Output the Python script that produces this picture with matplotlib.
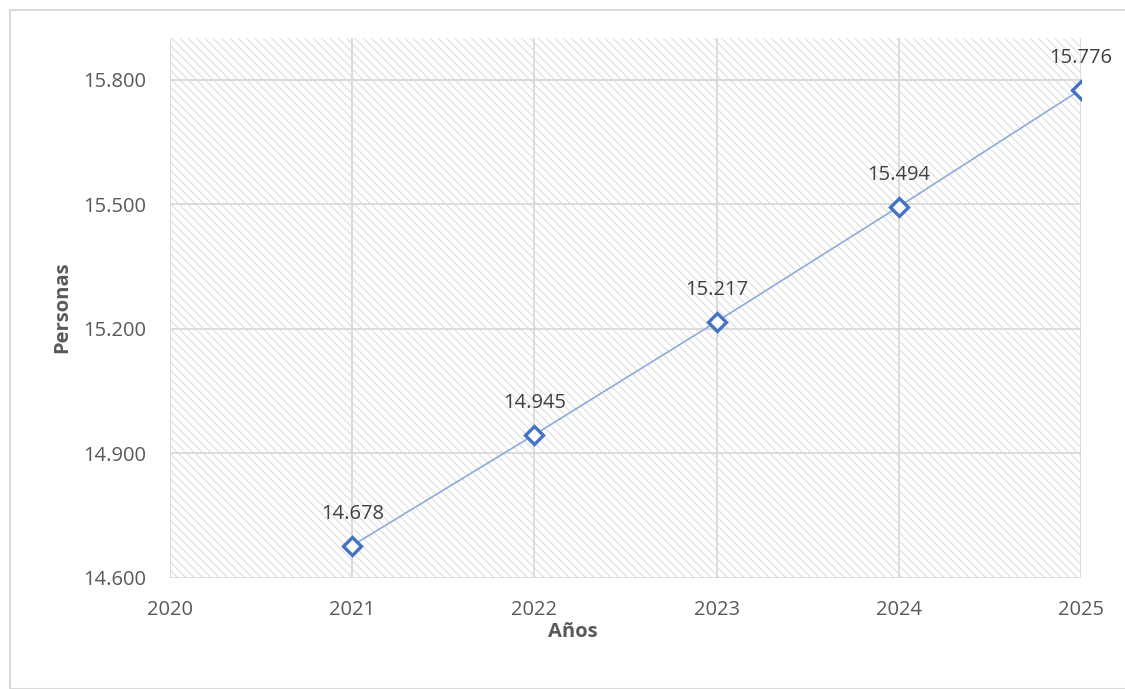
import matplotlib
matplotlib.use("Agg")
import matplotlib.pyplot as plt
from matplotlib.patches import Rectangle

years = [2021, 2022, 2023, 2024, 2025]
personas = [14678, 14945, 15217, 15494, 15776]
labels = ["14.678", "14.945", "15.217", "15.494", "15.776"]
xticks = [2020, 2021, 2022, 2023, 2024, 2025]
yticks = [14600, 14900, 15200, 15500, 15800]
ytick_labels = ["14.600", "14.900", "15.200", "15.500", "15.800"]

plt.rcParams['font.family'] = ['Open Sans', 'DejaVu Sans']
plt.rcParams['hatch.linewidth'] = 0.8
plt.rcParams['hatch.color'] = '#dedede'

fig = plt.figure(figsize=(11.25, 6.89), dpi=100)
# chart frame
fig.patches.append(Rectangle((10/1125, 0), 1.1, (689-10)/689, transform=fig.transFigure,
                             fill=False, edgecolor='#d9d9d9', linewidth=1.5, zorder=0))

ax = fig.add_axes([170/1125, 1-578/689, (1081-170)/1125, (578-38)/689])
ax.set_xlim(2020, 2025)
ax.set_ylim(14600, 15900)

bg = Rectangle((0, 0), 1, 1, transform=ax.transAxes, facecolor='white',
               edgecolor='#dedede', hatch='\\\\\\\\', linewidth=0, zorder=0)
ax.add_patch(bg)

for s in ax.spines.values():
    s.set_visible(False)
ax.set_xticks(xticks)
ax.set_xticklabels([str(x) for x in xticks])
ax.set_yticks(yticks)
ax.set_yticklabels(ytick_labels)
ax.tick_params(length=0, labelsize=14.5, colors='#595959')
ax.tick_params(axis='x', pad=16)
ax.tick_params(axis='y', pad=17)
ax.grid(True, color='#d9d9d9', linewidth=1.3, zorder=1)
ax.set_axisbelow(True)

ax.plot(years, personas, color='#8eaadb', linewidth=1.2, zorder=3)
ax.plot(years, personas, linestyle='none', marker='D', markersize=9.5,
        markerfacecolor='white', markeredgecolor='#4472c4', markeredgewidth=2.4, zorder=4)

for x, y, t in zip(years, personas, labels):
    ax.annotate(t, (x, y), xytext=(0, 22.5), textcoords='offset points', ha='center',
                va='center', fontsize=14.5, color='#404040', zorder=5)

ax.set_xlabel('Años', fontsize=14.5, fontweight='bold', color='#595959', va='center')
ax.xaxis.set_label_coords((573-170)/911, (578-632)/540)
ax.set_ylabel('Personas', fontsize=14.5, fontweight='bold', color='#595959', va='center')
ax.yaxis.set_label_coords((62-170)/911, (578-307)/540)

fig.savefig('out.png', dpi=100)
